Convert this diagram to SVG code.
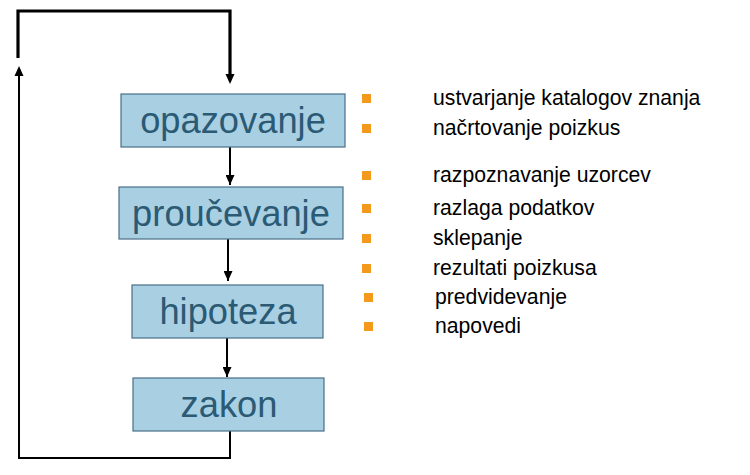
<svg xmlns="http://www.w3.org/2000/svg" width="750" height="475" viewBox="0 0 750 475">
<style>
.box{fill:#a9cfe3;stroke:#4a6f88;stroke-width:1.2}
.bt{font-family:"Liberation Sans",Arial,sans-serif;font-size:36.3px;fill:#2b5a74;text-anchor:middle}
.lt{font-family:"Liberation Sans",Arial,sans-serif;font-size:21.2px;fill:#000}
.bul{fill:#f39a1d}
.ln{fill:none;stroke:#000;stroke-width:2}
.thk{fill:none;stroke:#000;stroke-width:3.2}
</style>
<defs>
<marker id="ah" markerWidth="10" markerHeight="9" refX="10" refY="4.5" orient="auto" markerUnits="userSpaceOnUse" viewBox="0 0 10 9">
<path d="M0,0 L10,4.5 L0,9 Z" fill="#000"/>
</marker>
</defs>
<rect width="750" height="475" fill="#fff"/>
<g id="connectors">
<polyline class="thk" points="18,58 18,11 230,11 230,76"/>
<path d="M225.5,74 L234.5,74 L230,84 Z" fill="#000"/>
<polyline class="ln" points="230,431 230,458 19,458 19,74"/>
<path d="M14.5,76 L23.5,76 L19,66 Z" fill="#000"/>
<line class="ln" x1="230" y1="147" x2="230" y2="185" marker-end="url(#ah)"/>
<line class="ln" x1="228" y1="239" x2="228" y2="281" marker-end="url(#ah)"/>
<line class="ln" x1="227" y1="338" x2="227" y2="377" marker-end="url(#ah)"/>
</g>
<g id="opazovanje"><rect class="box" x="121" y="94" width="224" height="53"/><text class="bt" x="233" y="133">opazovanje</text></g>
<g id="proucevanje"><rect class="box" x="119" y="187" width="224" height="52"/><text class="bt" x="231" y="226">proučevanje</text></g>
<g id="hipoteza"><rect class="box" x="132" y="285" width="191" height="53"/><text class="bt" x="228" y="324">hipoteza</text></g>
<g id="zakon"><rect class="box" x="133" y="378" width="191" height="53"/><text class="bt" x="229" y="417">zakon</text></g>
<g id="bullets">
<rect class="bul" x="362" y="94" width="9" height="9"/><text class="lt" x="433" y="105">ustvarjanje katalogov znanja</text>
<rect class="bul" x="362" y="124" width="9" height="9"/><text class="lt" x="433" y="135">načrtovanje poizkus</text>
<rect class="bul" x="362" y="171" width="9" height="9"/><text class="lt" x="433" y="182">razpoznavanje uzorcev</text>
<rect class="bul" x="362" y="204" width="9" height="9"/><text class="lt" x="433" y="215">razlaga podatkov</text>
<rect class="bul" x="362" y="234" width="9" height="9"/><text class="lt" x="433" y="245">sklepanje</text>
<rect class="bul" x="362" y="264" width="9" height="9"/><text class="lt" x="433" y="275">rezultati poizkusa</text>
<rect class="bul" x="364" y="293" width="9" height="9"/><text class="lt" x="435" y="304">predvidevanje</text>
<rect class="bul" x="364" y="322" width="9" height="9"/><text class="lt" x="435" y="333">napovedi</text>
</g>
</svg>
